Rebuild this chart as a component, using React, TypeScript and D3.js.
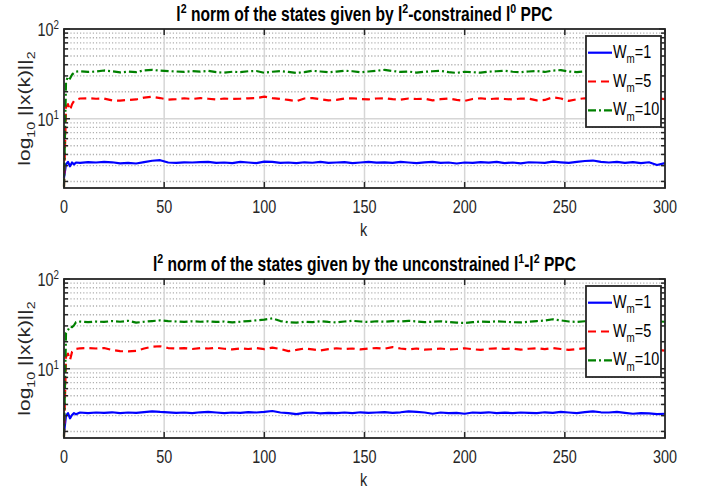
import React from "react";
import * as d3 from "d3";

// sample instants k (dense at the start, every 4 steps afterwards)
const K = [0, 1, 2, 3, 4, 5, 6, 8, 12, 16, 20, 24, 28, 32, 36, 40, 44, 48, 52, 56, 60, 64, 68, 72, 76, 80, 84, 88, 92, 96, 100,
  104, 108, 112, 116, 120, 124, 128, 132, 136, 140, 144, 148, 152, 156, 160, 164, 168, 172, 176, 180, 184, 188, 192, 196, 200,
  204, 208, 212, 216, 220, 224, 228, 232, 236, 240, 244, 248, 252, 256, 260, 264, 268, 272, 276, 280, 284, 288, 292, 296, 300];

// panel 1: l2-constrained l0 PPC
const TOP_W1 = [2.2, 3.1, 3.3, 2.95, 3.25, 3.1, 3.25,
  3.22, 3.28, 3.25, 3.3, 3.27, 3.18, 3.22, 3.17, 3.28, 3.4, 3.45, 3.25, 3.22, 3.27, 3.25, 3.28, 3.3, 3.22, 3.25, 3.2, 3.3, 3.25, 3.2, 3.33,
  3.3, 3.22, 3.25, 3.2, 3.27, 3.23, 3.3, 3.22, 3.25, 3.28, 3.2, 3.25, 3.3, 3.24, 3.27, 3.22, 3.3, 3.25, 3.2, 3.26, 3.3, 3.22, 3.25, 3.17, 3.25,
  3.22, 3.28, 3.24, 3.3, 3.2, 3.25, 3.18, 3.27, 3.25, 3.22, 3.32, 3.27, 3.22, 3.3, 3.38, 3.42, 3.3, 3.25, 3.3, 3.22, 3.28, 3.2, 3.27, 3.05, 3.2];
const TOP_W5 = [1.75, 13.5, 14.5, 12.5, 14.5, 15.8, 16.3,
  16.8, 16.9, 16.7, 16.8, 16.0, 15.9, 16.2, 16.4, 17.2, 17.6, 17.0, 16.3, 16.5, 16.9, 16.6, 17.0, 16.7, 16.4, 16.8, 16.6, 16.7, 16.9, 17.0, 17.6,
  17.0, 16.6, 16.2, 15.7, 16.8, 17.0, 16.5, 16.0, 16.2, 16.8, 16.9, 16.6, 16.4, 16.8, 16.9, 16.5, 16.3, 16.8, 16.6, 16.7, 16.0, 16.5, 16.8, 16.2, 15.8,
  16.6, 16.9, 16.5, 16.8, 16.6, 16.4, 16.8, 16.7, 16.0, 16.2, 17.3, 16.8, 15.8, 16.5, 16.9, 16.6, 16.8, 17.0, 16.5, 16.7, 16.4, 16.8, 16.6, 16.9, 16.5];
const TOP_W10 = [1.75, 26, 29.5, 28, 31, 32.5, 33.5,
  33.8, 33.2, 33.6, 34.5, 33.8, 32.8, 33.5, 33.0, 34.6, 35.0, 34.3, 34.0, 33.6, 33.2, 34.0, 33.5, 34.2, 33.0, 32.6, 33.4, 33.0, 33.8, 34.0, 32.5,
  33.4, 34.0, 33.2, 32.4, 33.0, 34.2, 33.6, 33.0, 33.5, 34.3, 33.8, 33.0, 33.6, 34.3, 35.0, 34.0, 33.2, 33.6, 32.6, 33.4, 33.8, 34.2, 33.0, 32.4, 33.4,
  33.0, 32.6, 33.5, 33.8, 34.3, 33.4, 33.0, 33.6, 34.0, 33.2, 34.4, 34.8, 33.6, 33.0, 33.8, 34.2, 33.5, 33.0, 33.6, 34.0, 33.4, 33.8, 34.0, 33.2, 33.5];

// panel 2: unconstrained l1-l2 PPC
const BOT_W1 = [1.9, 3.0, 3.2, 2.8, 3.05, 3.2, 3.1,
  3.25, 3.2, 3.25, 3.22, 3.27, 3.2, 3.25, 3.22, 3.28, 3.35, 3.3, 3.27, 3.22, 3.25, 3.2, 3.27, 3.3, 3.25, 3.2, 3.25, 3.22, 3.28, 3.25, 3.3,
  3.38, 3.25, 3.2, 3.12, 3.22, 3.25, 3.18, 3.22, 3.2, 3.25, 3.2, 3.27, 3.22, 3.25, 3.28, 3.22, 3.27, 3.35, 3.3, 3.25, 3.15, 3.25, 3.2, 3.22, 3.15,
  3.25, 3.22, 3.27, 3.2, 3.24, 3.2, 3.25, 3.22, 3.2, 3.27, 3.22, 3.3, 3.25, 3.2, 3.28, 3.35, 3.27, 3.25, 3.3, 3.22, 3.15, 3.2, 3.18, 3.12, 3.15];
const BOT_W5 = [1.75, 13.6, 14.7, 12.5, 15.4, 16.2, 16.6,
  16.9, 17.0, 16.8, 17.0, 16.2, 15.7, 15.6, 15.8, 16.8, 17.6, 17.8, 17.0, 16.8, 17.0, 16.6, 17.0, 16.8, 17.1, 16.7, 16.4, 16.8, 16.6, 17.0, 16.5,
  17.2, 16.6, 15.7, 16.2, 16.8, 16.4, 16.0, 16.5, 16.9, 16.6, 16.8, 16.4, 16.8, 17.0, 16.7, 17.4, 16.8, 16.4, 16.8, 16.3, 16.5, 16.8, 16.4, 16.6, 16.9,
  16.5, 16.2, 16.7, 16.9, 16.6, 16.8, 16.3, 16.7, 16.9, 16.5, 17.0, 16.6, 16.2, 16.5, 16.9, 16.4, 16.8, 16.6, 16.9, 16.5, 16.7, 16.3, 16.8, 16.2, 15.9];
const BOT_W10 = [1.75, 25, 27, 29.5, 29, 30.5, 33,
  33.5, 33.0, 33.6, 33.2, 34.0, 33.4, 34.2, 32.6, 33.4, 34.0, 34.6, 34.0, 33.6, 33.2, 33.8, 33.4, 33.8, 33.2, 33.6, 32.8, 33.4, 34.0, 34.6, 35.2,
  36.4, 34.0, 33.0, 32.6, 33.4, 33.0, 33.8, 33.2, 32.8, 33.6, 34.2, 33.6, 33.2, 33.8, 33.4, 34.0, 33.6, 34.2, 33.6, 33.0, 33.4, 33.8, 33.2, 32.6, 32.4,
  33.0, 33.6, 33.2, 33.8, 33.4, 33.0, 32.8, 33.4, 34.0, 34.4, 35.6, 34.6, 33.6, 33.2, 33.8, 34.2, 33.6, 33.2, 33.8, 34.0, 33.4, 33.8, 33.2, 33.6, 33.4];

const X_TICKS = [0, 50, 100, 150, 200, 250, 300];
const Y_MAJOR = [10, 100];
const Y_MINOR = [2, 3, 4, 5, 6, 7, 8, 9, 20, 30, 40, 50, 60, 70, 80, 90];
const LEGEND = ["1", "5", "10"];
const COLORS = ["#0000ff", "#ff0000", "#008000"];
const DASHES = ["none", "8,5", "8,3,2,3"];

const LEFT = 64;
const RIGHT = 665;
const PANEL_H = 159;
const Y_MIN = 1.69;
const FONT = "'Liberation Sans', Arial, Helvetica, sans-serif";
const SX = 0.8; // the original is squeezed horizontally
const AXIS = "#262626";

type Part = { t: string; sup?: boolean; sub?: boolean };

function parts(list: Part[], size: number) {
  const small = size * 0.68;
  let shift = 0;
  return list.map((p, i) => {
    const target = p.sup ? -size * 0.4 : p.sub ? size * 0.3 : 0;
    const dy = target - shift;
    shift = target;
    return (
      <tspan key={i} dy={dy} fontSize={p.sup || p.sub ? small : size}>
        {p.t}
      </tspan>
    );
  });
}

function Label({ x, y, anchor = "middle", size = 18, weight = "normal", fill = AXIS, rotate = 0, children }: any) {
  return (
    <g transform={`translate(${x},${y}) scale(${SX},1)${rotate ? ` rotate(${rotate})` : ""}`}>
      <text textAnchor={anchor} fontSize={size} fontWeight={weight} fill={fill} fontFamily={FONT}>
        {children}
      </text>
    </g>
  );
}

function Panel({ top, title, series }: { top: number; title: Part[]; series: number[][] }) {
  const x = d3.scaleLinear().domain([0, 300]).range([LEFT, RIGHT]);
  const y = d3.scaleLog().domain([Y_MIN, 100]).range([top + PANEL_H, top]);
  const bottom = top + PANEL_H;
  const line = d3
    .line<number>()
    .x((_, i) => x(K[i]))
    .y((d) => y(d));

  const lx = 586;
  const ly = top + 7;

  return (
    <g>
      <rect x={LEFT} y={top} width={RIGHT - LEFT} height={PANEL_H} fill="#fff" />
      {Y_MINOR.map((v) => (
        <line key={"mg" + v} x1={LEFT} x2={RIGHT} y1={y(v)} y2={y(v)} stroke="#b0b0b0" strokeWidth={1.4} strokeDasharray="1.2,2" />
      ))}
      {X_TICKS.slice(1, -1).map((v) => (
        <line key={"xg" + v} x1={x(v)} x2={x(v)} y1={top} y2={bottom} stroke="#d6d6d6" strokeWidth={1.5} />
      ))}
      <line x1={LEFT} x2={RIGHT} y1={y(10)} y2={y(10)} stroke="#d6d6d6" strokeWidth={1.5} />

      {series.map((s, i) => (
        <path key={i} d={line(s) ?? ""} fill="none" stroke={COLORS[i]} strokeWidth={2.2} strokeDasharray={DASHES[i]} strokeLinejoin="round" />
      ))}

      {/* ticks */}
      {X_TICKS.map((v) => (
        <g key={"xt" + v}>
          <line x1={x(v)} x2={x(v)} y1={bottom} y2={bottom - 6} stroke={AXIS} strokeWidth={1.5} />
          <line x1={x(v)} x2={x(v)} y1={top} y2={top + 6} stroke={AXIS} strokeWidth={1.5} />
          <Label x={x(v)} y={bottom + 25}>{v}</Label>
        </g>
      ))}
      {Y_MINOR.map((v) => (
        <g key={"ymt" + v}>
          <line x1={LEFT} x2={LEFT + 4} y1={y(v)} y2={y(v)} stroke={AXIS} strokeWidth={1.5} />
          <line x1={RIGHT} x2={RIGHT - 4} y1={y(v)} y2={y(v)} stroke={AXIS} strokeWidth={1.5} />
        </g>
      ))}
      {Y_MAJOR.map((v) => (
        <g key={"yt" + v}>
          <line x1={LEFT} x2={LEFT + 6} y1={y(v)} y2={y(v)} stroke={AXIS} strokeWidth={1.5} />
          <line x1={RIGHT} x2={RIGHT - 6} y1={y(v)} y2={y(v)} stroke={AXIS} strokeWidth={1.5} />
          <Label x={59} y={y(v) + 7} anchor="end">
            {parts([{ t: "10" }, { t: String(Math.round(Math.log10(v))), sup: true }], 18)}
          </Label>
        </g>
      ))}
      <rect x={LEFT} y={top} width={RIGHT - LEFT} height={PANEL_H} fill="none" stroke={AXIS} strokeWidth={1.8} />

      {/* legend */}
      <rect x={lx} y={ly} width={75} height={91} fill="#fff" stroke={AXIS} strokeWidth={1.8} />
      {LEGEND.map((w, i) => {
        const cy = ly + 16.7 + i * 28.8;
        return (
          <g key={w}>
            <line x1={lx + 2} x2={lx + 26} y1={cy} y2={cy} stroke={COLORS[i]} strokeWidth={2.2} strokeDasharray={DASHES[i]} />
            <Label x={lx + 27} y={cy + 5} anchor="start" size={18} fill="#000">
              {parts([{ t: "W" }, { t: "m", sub: true }, { t: "=" + w }], 18)}
            </Label>
          </g>
        );
      })}

      <Label x={(LEFT + RIGHT) / 2} y={top - 8} size={19.5} weight="bold" fill="#000">
        {parts(title, 19.5)}
      </Label>
      <Label x={(LEFT + RIGHT) / 2 - 1} y={bottom + 48} size={18}>k</Label>
      <Label x={30} y={top + PANEL_H / 2} size={21} rotate={-90}>
        {parts([{ t: "log" }, { t: "10", sub: true }, { t: " ||x(k)||" }, { t: "2", sub: true }], 21)}
      </Label>
    </g>
  );
}

const TITLE_1: Part[] = [
  { t: "l" }, { t: "2", sup: true }, { t: " norm of the states given by l" }, { t: "2", sup: true },
  { t: "-constrained l" }, { t: "0", sup: true }, { t: " PPC" },
];
const TITLE_2: Part[] = [
  { t: "l" }, { t: "2", sup: true }, { t: " norm of the states given by the unconstrained l" }, { t: "1", sup: true },
  { t: "-l" }, { t: "2", sup: true }, { t: " PPC" },
];

export default function App() {
  return (
    <svg width={707} height={493} style={{ position: "absolute", left: 0, top: 0, background: "#fff" }}>
      <rect width={707} height={493} fill="#fff" />
      <Panel top={29} title={TITLE_1} series={[TOP_W1, TOP_W5, TOP_W10]} />
      <Panel top={279} title={TITLE_2} series={[BOT_W1, BOT_W5, BOT_W10]} />
    </svg>
  );
}
